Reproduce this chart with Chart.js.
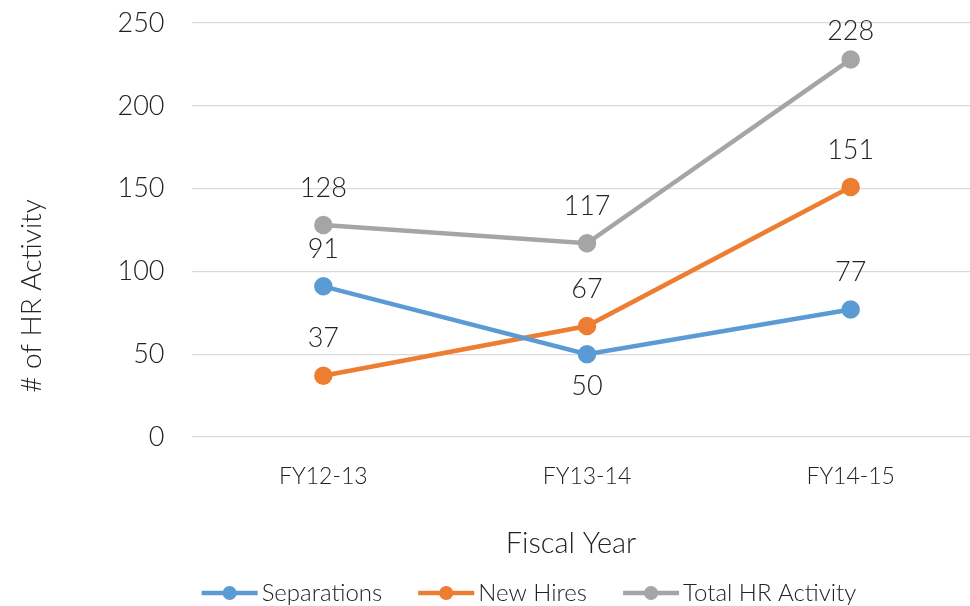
<!DOCTYPE html>
<html>
<head>
<meta charset="utf-8">
<script src="https://cdn.jsdelivr.net/npm/chart.js@4.4.1/dist/chart.umd.min.js"></script>
<style>
  html, body { margin: 0; padding: 0; background: #fff; overflow: hidden; }
  #wrap { width: 970px; height: 606px; overflow: hidden; }
</style>
</head>
<body>
<div id="wrap"><canvas id="myChart" width="994" height="606"></canvas></div>
<script>
// data
const categories = ['FY12-13', 'FY13-14', 'FY14-15'];
const separations = [91, 50, 77];
const newHires = [37, 67, 151];
const totalActivity = [128, 117, 228];
const yTicks = [0, 50, 100, 150, 200, 250];
const seriesNames = ['Separations', 'New Hires', 'Total HR Activity'];

const colors = ['#5B9BD5', '#ED7D31', '#A5A5A5'];
const FONT = 'Lato, "Open Sans", sans-serif';
const TEXT = '#222222';

function makeSet(i, values) {
  return {
    label: seriesNames[i],
    data: values,
    borderColor: colors[i],
    backgroundColor: colors[i],
    pointBackgroundColor: colors[i],
    pointBorderColor: colors[i],
    borderWidth: 4.5,
    pointRadius: 7,
    pointHoverRadius: 7,
    tension: 0
  };
}

// value labels above points (below when another series sits just above)
const valueLabels = {
  id: 'valueLabels',
  afterDatasetsDraw(chart) {
    const ctx = chart.ctx;
    const sets = chart.data.datasets;
    ctx.save();
    ctx.font = '300 27px ' + FONT;
    ctx.fillStyle = TEXT;
    ctx.textAlign = 'center';
    ctx.textBaseline = 'middle';
    sets.forEach((ds, d) => {
      chart.getDatasetMeta(d).data.forEach((pt, i) => {
        const v = ds.data[i];
        const crowded = sets.some((o, k) => k !== d && o.data[i] > v && o.data[i] - v < 30);
        let y = crowded ? pt.y + 32 : pt.y - 37;
        y = Math.max(y, chart.chartArea.top + 8);
        ctx.fillText(String(v), pt.x, y);
      });
    });
    ctx.restore();
  }
};

// axis titles and legend laid out like the original
const extras = {
  id: 'extras',
  afterDraw(chart) {
    const ctx = chart.ctx;
    ctx.save();
    ctx.fillStyle = TEXT;

    // x title
    ctx.font = '300 29px ' + FONT;
    ctx.textAlign = 'center';
    ctx.textBaseline = 'alphabetic';
    ctx.fillText('Fiscal Year', 571, 553);

    // y title
    ctx.save();
    ctx.translate(41, 296);
    ctx.rotate(-Math.PI / 2);
    ctx.font = '300 28px ' + FONT;
    ctx.fillText('# of HR Activity', 0, 0);
    ctx.restore();

    // legend
    ctx.font = '300 24px ' + FONT;
    const sample = 56, gapText = 4, gapItem = 36;
    const widths = seriesNames.map(n => ctx.measureText(n).width);
    const total = widths.reduce((a, w) => a + sample + gapText + w, 0) + gapItem * (seriesNames.length - 1);
    let x = 529 - total / 2;
    const ly = 593;
    ctx.textAlign = 'left';
    seriesNames.forEach((n, i) => {
      ctx.strokeStyle = colors[i];
      ctx.lineWidth = 4.5;
      ctx.beginPath();
      ctx.moveTo(x, ly);
      ctx.lineTo(x + sample, ly);
      ctx.stroke();
      ctx.fillStyle = colors[i];
      ctx.beginPath();
      ctx.arc(x + sample / 2, ly, 7, 0, Math.PI * 2);
      ctx.fill();
      ctx.fillStyle = TEXT;
      ctx.fillText(n, x + sample + gapText, 601);
      x += sample + gapText + widths[i] + gapItem;
    });
    ctx.restore();
  }
};

const config = {
  type: 'line',
  data: {
    labels: categories,
    datasets: [
      makeSet(0, separations),
      makeSet(1, newHires),
      makeSet(2, totalActivity)
    ]
  },
  options: {
    responsive: false,
    animation: false,
    layout: { padding: { top: 23, left: 1.5, right: 2, bottom: 0 } },
    plugins: {
      legend: { display: false },
      tooltip: { enabled: false }
    },
    scales: {
      x: {
        offset: true,
        grid: { display: false },
        border: { display: false },
        ticks: { color: TEXT, font: { family: FONT, size: 23, weight: 300 }, padding: 18, maxRotation: 0 },
        afterFit(scale) {
          scale.height = 169;
          scale.paddingLeft = 0;
          scale.paddingRight = 0;
        }
      },
      y: {
        min: 0,
        max: 250,
        afterBuildTicks(scale) { scale.ticks = yTicks.map(v => ({ value: v })); },
        grid: { color: '#d9d9d9', lineWidth: 1.3, drawTicks: false },
        border: { display: false },
        ticks: { color: TEXT, font: { family: FONT, size: 27, weight: 300 }, padding: 27 },
        afterFit(scale) {
          scale.width = 190;
          scale.paddingTop = 0;
          scale.paddingBottom = 0;
        }
      }
    }
  },
  plugins: [valueLabels, extras]
};

const myChart = new Chart(document.getElementById('myChart'), config);
</script>
</body>
</html>
